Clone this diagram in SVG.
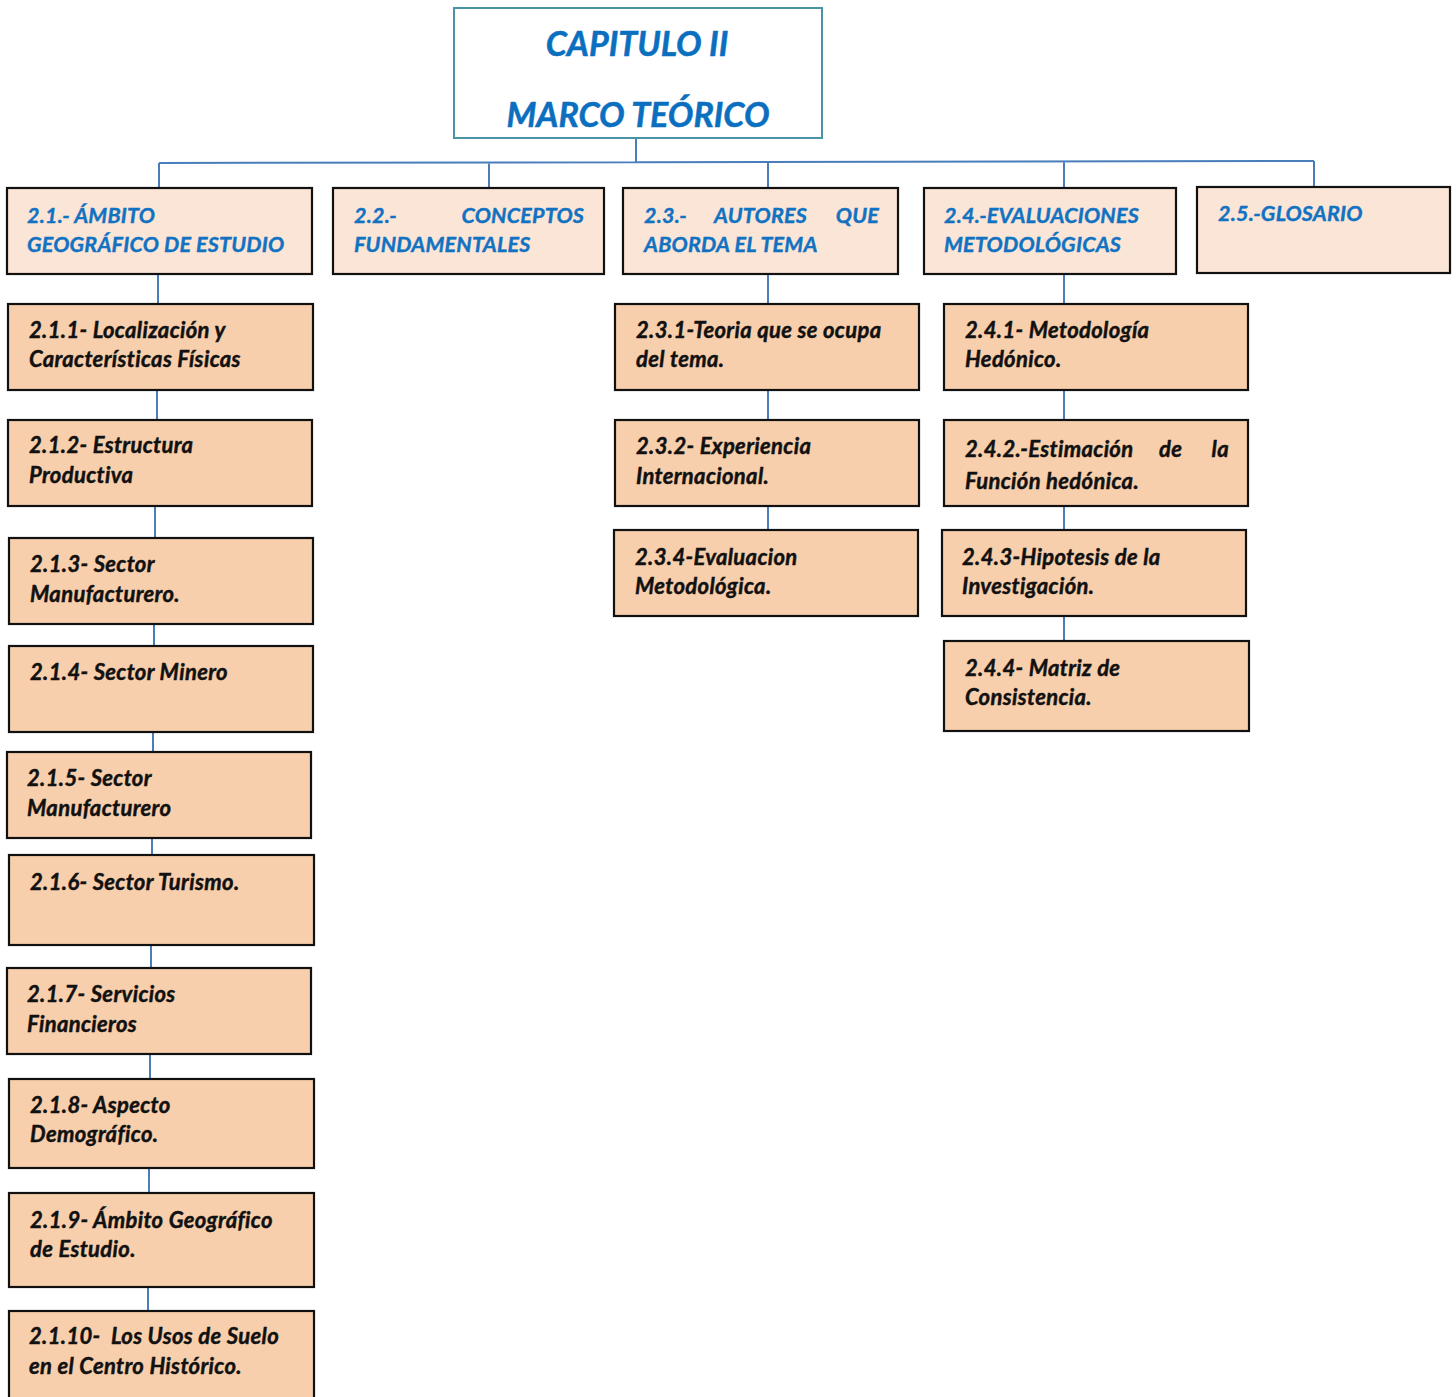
<svg xmlns="http://www.w3.org/2000/svg" width="1456" height="1397" viewBox="0 0 1456 1397">
<style>
.bg{fill:#ffffff}
.title{fill:#ffffff;stroke:#4a93a6;stroke-width:2}
.l1{fill:#fbe5d6;stroke:#111;stroke-width:2.2}
.l2{fill:#f8cfac;stroke:#111;stroke-width:2.2}
.c{fill:none;stroke:#4a7ebb;stroke-width:2}
text{font-family:Lato,"Open Sans","Liberation Sans",sans-serif;font-weight:bold;font-style:italic}
.tt{font-size:34px;fill:#0b6fc0;text-anchor:middle;stroke:#0b6fc0;stroke-width:0.5}
.h{font-size:21.5px;fill:#1272c2;letter-spacing:0.2px;stroke:#1272c2;stroke-width:0.4}
.t{font-size:22px;fill:#111;letter-spacing:0.35px;stroke:#111;stroke-width:0.45}
.e{text-anchor:end}
</style>
<rect class="bg" x="0" y="0" width="1456" height="1397"/>
<g id="connectors">
<path class="c" d="M636 138V162M159 163L1314 161M159 163V188M489 162V188M768 162V188M1064 162V188M1314 161V187"/>
<path class="c" d="M158 274V304M157 390V420M155 506V538M154 624V646M153 732V752M152 838V855M151 945V968M150 1054V1079M149 1168V1193M148 1287V1311"/>
<path class="c" d="M768 274V304M768 390V420M768 506V530"/>
<path class="c" d="M1064 274V304M1064 390V420M1064 506V530M1064 616V641"/>
</g>
<g id="n0"><rect class="title" x="454" y="8" width="368" height="130"/>
<text class="tt" x="637" y="56">CAPITULO II</text><text class="tt" x="638" y="127">MARCO TEÓRICO</text></g>
<g id="n21"><rect class="l1" x="7" y="188" width="305" height="86"/>
<text class="h" x="27" y="223">2.1.- ÁMBITO</text><text class="h" x="27" y="252">GEOGRÁFICO DE ESTUDIO</text></g>
<g id="n22"><rect class="l1" x="333" y="188" width="271" height="86"/>
<text class="h" x="354" y="223">2.2.-</text><text class="h e" x="584" y="223">CONCEPTOS</text><text class="h" x="354" y="252">FUNDAMENTALES</text></g>
<g id="n23"><rect class="l1" x="623" y="188" width="275" height="86"/>
<text class="h" x="644" y="223">2.3.-</text><text class="h" x="714" y="223">AUTORES</text><text class="h e" x="879" y="223">QUE</text><text class="h" x="644" y="252">ABORDA EL TEMA</text></g>
<g id="n24"><rect class="l1" x="924" y="188" width="252" height="86"/>
<text class="h" x="944" y="223">2.4.-EVALUACIONES</text><text class="h" x="944" y="252">METODOLÓGICAS</text></g>
<g id="n25"><rect class="l1" x="1197" y="187" width="253" height="86"/>
<text class="h" x="1218" y="221">2.5.-GLOSARIO</text></g>
<g id="n211"><rect class="l2" x="8" y="304" width="305" height="86"/>
<text class="t" x="29" y="338">2.1.1- Localización y</text><text class="t" x="29" y="367">Características Físicas</text></g>
<g id="n212"><rect class="l2" x="8" y="420" width="304" height="86"/>
<text class="t" x="29" y="453">2.1.2- Estructura</text><text class="t" x="29" y="483">Productiva</text></g>
<g id="n213"><rect class="l2" x="9" y="538" width="304" height="86"/>
<text class="t" x="30" y="572">2.1.3- Sector</text><text class="t" x="30" y="602">Manufacturero.</text></g>
<g id="n214"><rect class="l2" x="9" y="646" width="304" height="86"/>
<text class="t" x="30" y="680">2.1.4- Sector Minero</text></g>
<g id="n215"><rect class="l2" x="7" y="752" width="304" height="86"/>
<text class="t" x="27" y="786">2.1.5- Sector</text><text class="t" x="27" y="816">Manufacturero</text></g>
<g id="n216"><rect class="l2" x="9" y="855" width="305" height="90"/>
<text class="t" x="30" y="890">2.1.6- Sector Turismo.</text></g>
<g id="n217"><rect class="l2" x="7" y="968" width="304" height="86"/>
<text class="t" x="27" y="1002">2.1.7- Servicios</text><text class="t" x="27" y="1032">Financieros</text></g>
<g id="n218"><rect class="l2" x="9" y="1079" width="305" height="89"/>
<text class="t" x="30" y="1113">2.1.8- Aspecto</text><text class="t" x="30" y="1142">Demográfico.</text></g>
<g id="n219"><rect class="l2" x="9" y="1193" width="305" height="94"/>
<text class="t" x="30" y="1228">2.1.9- Ámbito Geográfico</text><text class="t" x="30" y="1257">de Estudio.</text></g>
<g id="n2110"><rect class="l2" x="9" y="1311" width="305" height="100"/>
<text class="t" x="29" y="1344" xml:space="preserve">2.1.10-  Los Usos de Suelo</text><text class="t" x="29" y="1374">en el Centro Histórico.</text></g>
<g id="n231"><rect class="l2" x="615" y="304" width="304" height="86"/>
<text class="t" x="636" y="338">2.3.1-Teoria que se ocupa</text><text class="t" x="636" y="367">del tema.</text></g>
<g id="n232"><rect class="l2" x="615" y="420" width="304" height="86"/>
<text class="t" x="636" y="454">2.3.2- Experiencia</text><text class="t" x="636" y="484">Internacional.</text></g>
<g id="n234"><rect class="l2" x="614" y="530" width="304" height="86"/>
<text class="t" x="635" y="565">2.3.4-Evaluacion</text><text class="t" x="635" y="594">Metodológica.</text></g>
<g id="n241"><rect class="l2" x="944" y="304" width="304" height="86"/>
<text class="t" x="965" y="338">2.4.1- Metodología</text><text class="t" x="965" y="367">Hedónico.</text></g>
<g id="n242"><rect class="l2" x="944" y="420" width="304" height="86"/>
<text class="t" x="965" y="457">2.4.2.-Estimación</text><text class="t" x="1159" y="457">de</text><text class="t e" x="1229" y="457">la</text><text class="t" x="965" y="489">Función hedónica.</text></g>
<g id="n243"><rect class="l2" x="942" y="530" width="304" height="86"/>
<text class="t" x="962" y="565">2.4.3-Hipotesis de la</text><text class="t" x="962" y="594">Investigación.</text></g>
<g id="n244"><rect class="l2" x="944" y="641" width="305" height="90"/>
<text class="t" x="965" y="676">2.4.4- Matriz de</text><text class="t" x="965" y="705">Consistencia.</text></g>
</svg>
